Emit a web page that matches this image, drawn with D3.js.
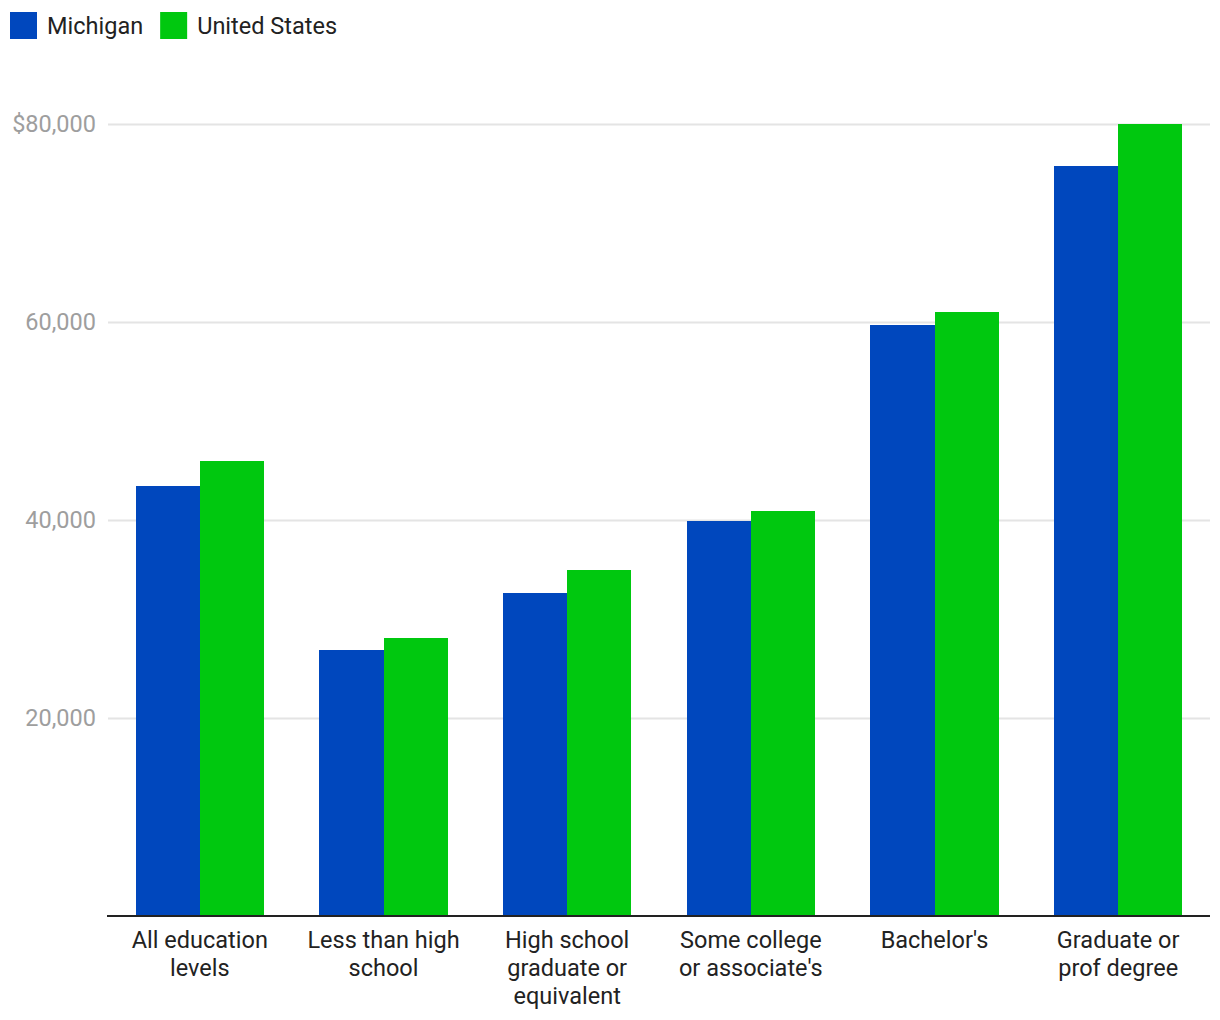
<!DOCTYPE html>
<html>
<head>
<meta charset="utf-8">
<script src="https://cdn.jsdelivr.net/npm/d3@7"></script>
<style>
  body { margin: 0; background: #fff; font-family: Roboto, sans-serif; }
</style>
</head>
<body>
<div id="chart"></div>
<script>
var categories = [
  ["All education", "levels"],
  ["Less than high", "school"],
  ["High school", "graduate or", "equivalent"],
  ["Some college", "or associate's"],
  ["Bachelor's"],
  ["Graduate or", "prof degree"]
];
var seriesNames = ["Michigan", "United States"];
var michigan = [43400, 26900, 32600, 39900, 59700, 75800];
var unitedStates = [46000, 28100, 35000, 40900, 61000, 80000];
var yTicks = [20000, 40000, 60000, 80000];
var colors = ["#0047BD", "#00C80F"];

var width = 1220, height = 1020;
var margin = {top: 124, right: 10, bottom: 104, left: 108};
var w = width - margin.left - margin.right;
var h = height - margin.top - margin.bottom;

var svg = d3.select("#chart").append("svg")
  .attr("width", width)
  .attr("height", height);

// legend
var legend = svg.append("g");
var lx = 10;
seriesNames.forEach(function (name, i) {
  legend.append("rect")
    .attr("x", lx).attr("y", 12)
    .attr("width", 27).attr("height", 27)
    .attr("fill", colors[i]);
  var t = legend.append("text")
    .attr("x", lx + 37).attr("y", 34)
    .attr("font-size", 23.5)
    .attr("fill", "#222")
    .text(name);
  lx += 37 + t.node().getComputedTextLength() + 17;
});

var g = svg.append("g")
  .attr("transform", "translate(" + margin.left + "," + margin.top + ")");

var x0 = d3.scaleBand()
  .domain(d3.range(categories.length))
  .range([0, w])
  .paddingInner(0.3)
  .paddingOuter(0.15);

var x1 = d3.scaleBand()
  .domain([0, 1])
  .range([0, x0.bandwidth()]);

var y = d3.scaleLinear()
  .domain([0, 80000])
  .range([h, 0]);

// gridlines + y labels
var yAxis = d3.axisLeft(y)
  .tickValues(yTicks)
  .tickSize(-w)
  .tickFormat(function (d) {
    var s = d3.format(",")(d);
    return d === 80000 ? "$" + s : s;
  });

var yg = g.append("g").call(yAxis);
yg.select(".domain").remove();
yg.selectAll(".tick line").attr("stroke", "#e4e4e4").attr("stroke-width", 2);
yg.selectAll(".tick text")
  .attr("x", -12)
  .attr("font-size", 23.5)
  .attr("font-family", "Roboto, sans-serif")
  .attr("fill", "#9e9e9e");

var data = categories.map(function (c, i) {
  return {i: i, values: [michigan[i], unitedStates[i]]};
});

var groups = g.selectAll(".grp")
  .data(data)
  .enter().append("g")
  .attr("class", "grp")
  .attr("transform", function (d) { return "translate(" + x0(d.i) + ",0)"; });

groups.selectAll("rect")
  .data(function (d) { return d.values; })
  .enter().append("rect")
  .attr("x", function (d, j) { return x1(j); })
  .attr("y", function (d) { return y(d); })
  .attr("width", x1.bandwidth())
  .attr("height", function (d) { return h - y(d); })
  .attr("shape-rendering", "crispEdges")
  .attr("fill", function (d, j) { return colors[j]; });

// x axis
g.append("line")
  .attr("x1", -1).attr("x2", w)
  .attr("y1", h).attr("y2", h)
  .attr("stroke", "#222").attr("stroke-width", 2);

var labels = g.selectAll(".xlab")
  .data(categories)
  .enter().append("text")
  .attr("class", "xlab")
  .attr("text-anchor", "middle")
  .attr("font-size", 23.5)
  .attr("fill", "#222")
  .attr("transform", function (d, i) {
    return "translate(" + (x0(i) + x0.bandwidth() / 2) + "," + (h + 32) + ")";
  });

labels.selectAll("tspan")
  .data(function (d) { return d; })
  .enter().append("tspan")
  .attr("x", 0)
  .attr("dy", function (d, i) { return i === 0 ? 0 : 28; })
  .text(function (d) { return d; });
</script>
</body>
</html>
